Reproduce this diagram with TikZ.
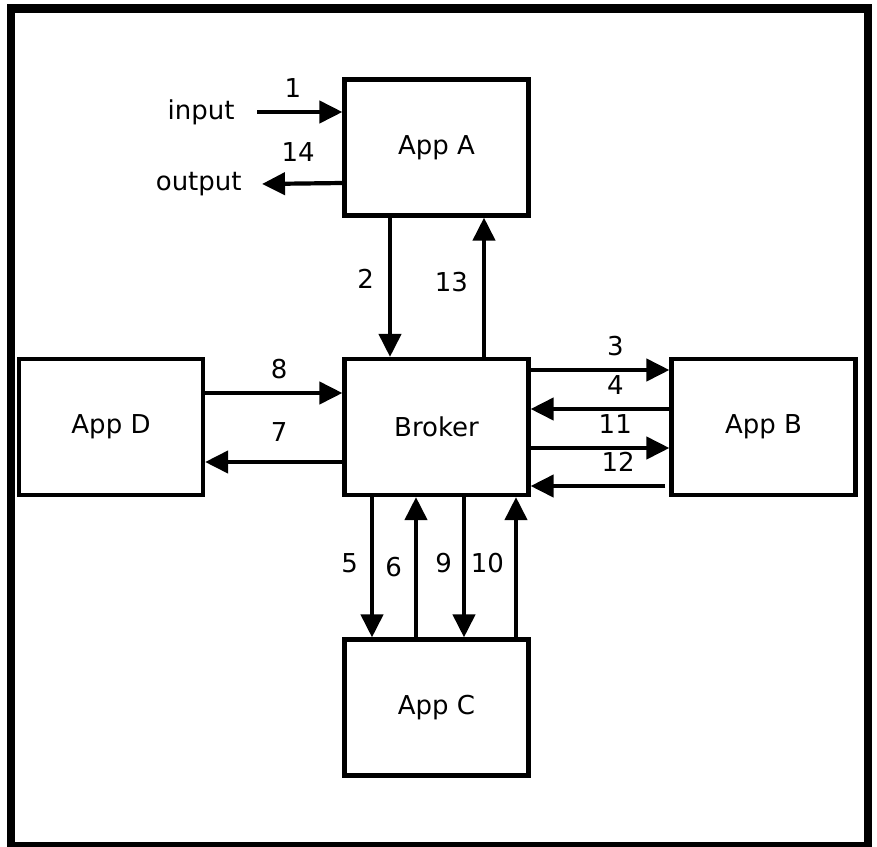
\documentclass[tikz,border=0pt]{standalone}
\usepackage{fontspec}
\setmainfont{DejaVu Sans}
\usepackage{tikz}
\usetikzlibrary{arrows.meta,positioning}

\begin{document}
\begin{tikzpicture}[x=0.5pt, y=-0.5pt,
    every node/.style={font=\fontsize{13}{15}\selectfont},
    app/.style={draw, line width=2.1pt, minimum width=92pt, minimum height=68pt},
    io/.style={inner xsep=11pt},
    flow/.style={-{Triangle[length=11.5pt, width=11pt]}, line width=2.1pt},
    num/.style={inner sep=2pt}]
    \useasboundingbox (0,0) rectangle (877,846);
    % Frame
    \draw[line width=4.25pt] (11,8.5) rectangle (868,846);

    % Applications
    \node[app] (appA) at (436.5,147.5) {App A};
    \node[app] (broker) at (436.5,427) {Broker};
    \node[app] (appB) at (763.5,427) {App B};
    \node[app] (appD) at (111,427) {App D};
    \node[app] (appC) at (436.5,707.5) {App C};

    % Input / output
    \node[io, anchor=east] (in) at (257,112) {input};
    \node[io, anchor=east, inner xsep=10pt] (out) at (262,184) {output};

    % Connections
    \draw[flow] (in.east) -- (in.east -| appA.west) node[num, pos=.42, above=4pt] {1};
    \draw[flow] ([yshift=-17.75pt]appA.west) -- (out.east) node[num, pos=.55, above=8pt] {14};
    \draw[flow] ([xshift=-23.25pt]appA.south) -- ([xshift=-23.25pt]broker.north) node[num, pos=.44, left=5pt] {2};
    \draw[flow] ([xshift=23.75pt]broker.north) -- ([xshift=23.75pt]appA.south) node[num, pos=.54, left=5pt] {13};

    \draw[flow] ([yshift=28.5pt]broker.east) -- ([yshift=28.5pt]appB.west) node[num, pos=.61, above=4pt] {3};
    \draw[flow] ([yshift=9pt]appB.west) -- ([yshift=9pt]broker.east) node[num, pos=.39, above=4pt] {4};
    \draw[flow] ([yshift=-10.5pt]broker.east) -- ([yshift=-10.5pt]appB.west) node[num, pos=.61, above=4pt] {11};
    \draw[flow, shorten <=2pt] ([yshift=-29.5pt]appB.west) -- ([yshift=-29.5pt]broker.east) node[num, pos=.37, above=4pt] {12};

    \draw[flow] ([yshift=17pt]appD.east) -- ([yshift=17pt]broker.west) node[num, pos=.54, above=4pt] {8};
    \draw[flow] ([yshift=-17.5pt]broker.west) -- ([yshift=-17.5pt]appD.east) node[num, pos=.46, above=7pt] {7};

    \draw[flow] ([xshift=-32.25pt]broker.south) -- ([xshift=-32.25pt]appC.north) node[num, pos=.47, left=4pt] {5};
    \draw[flow] ([xshift=-10.25pt]appC.north) -- ([xshift=-10.25pt]broker.south) node[num, pos=.5, left=4pt] {6};
    \draw[flow] ([xshift=13.75pt]broker.south) -- ([xshift=13.75pt]appC.north) node[num, pos=.47, left=3pt] {9};
    \draw[flow] ([xshift=39.75pt]appC.north) -- ([xshift=39.75pt]broker.south) node[num, pos=.53, left=3pt] {10};
\end{tikzpicture}
\end{document}
